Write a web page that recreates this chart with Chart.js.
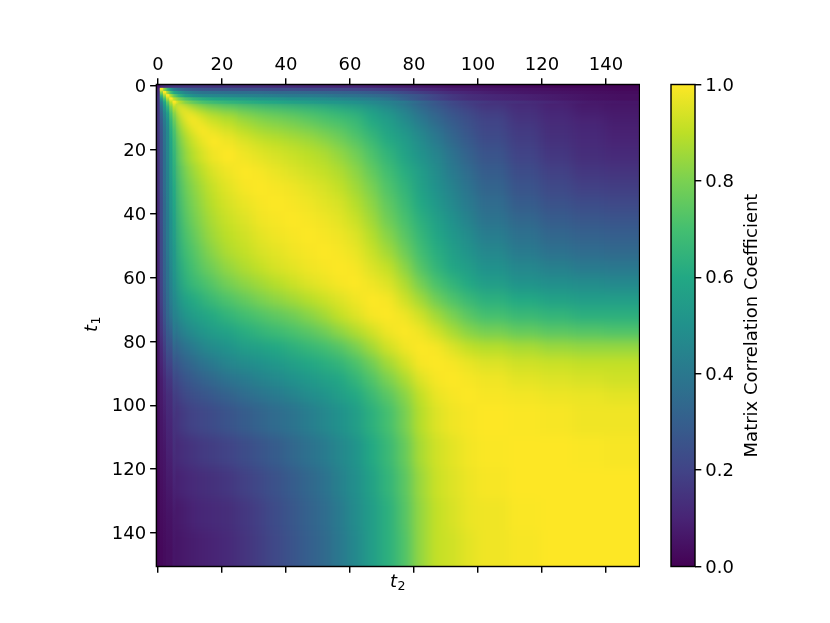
<!DOCTYPE html>
<html>
<head>
<meta charset="utf-8">
<title>Matrix Correlation Coefficient</title>
<script src="https://cdn.jsdelivr.net/npm/chart.js@4"></script>
<style>
    html, body { margin: 0; padding: 0; background: #ffffff; }
    #wrap { position: relative; width: 830px; height: 623px; overflow: hidden; }
    #wrap div { position: absolute; top: 0; height: 623px; }
    #mainBox { left: 0; width: 640px; }
    #barBox { left: 640px; width: 190px; }
</style>
</head>
<body>
<div id="wrap">
    <div id="mainBox"><canvas id="heatmap"></canvas></div>
    <div id="barBox"><canvas id="colorbar"></canvas></div>
</div>
<script>
// Block edges along t1 and t2 (finer near the origin where the picture changes fast)
const blockEdges = [0, 1, 2, 3, 4, 5, 6, 8, 10, 13, 16, 20, 25, 30, 35, 40, 45, 50, 55, 60, 65, 70, 75, 80, 85, 90, 95, 100, 110, 120, 130, 140, 151];

// Upper triangle, each row starts on the diagonal
const correlationRows = [
    [.05,.12,.13,.14,.15,.15,.15,.15,.15,.15,.14,.14,.13,.13,.12,.12,.11,.11,.10,.10,.09,.08,.07,.06,.05,.04,.04,.03,.02,.01,.01,.01],
    [1,.82,.66,.52,.42,.36,.31,.28,.26,.25,.25,.24,.24,.23,.23,.22,.22,.21,.20,.19,.17,.15,.12,.10,.08,.07,.06,.05,.04,.03,.02],
    [1,.85,.7,.6,.52,.45,.41,.38,.37,.36,.36,.35,.34,.34,.33,.32,.31,.30,.28,.26,.22,.18,.15,.12,.10,.08,.06,.05,.04,.03],
    [1,.88,.76,.65,.56,.5,.47,.46,.45,.44,.43,.42,.41,.41,.40,.38,.37,.35,.33,.29,.25,.2,.16,.13,.11,.09,.07,.05,.04],
    [1,.9,.8,.72,.66,.62,.59,.57,.55,.53,.52,.5,.49,.48,.46,.44,.42,.38,.31,.25,.2,.16,.13,.11,.09,.07,.05,.04],
    [1,.9,.82,.76,.71,.68,.65,.63,.61,.59,.57,.55,.53,.52,.5,.47,.44,.40,.33,.27,.22,.18,.15,.13,.1,.07,.06],
    [1,.93,.87,.82,.78,.75,.72,.7,.68,.66,.64,.62,.59,.56,.52,.47,.41,.34,.28,.23,.19,.15,.12,.09,.07,.06],
    [1,.95,.9,.86,.83,.8,.77,.75,.73,.71,.69,.66,.63,.58,.52,.45,.37,.31,.26,.22,.18,.14,.11,.08,.07],
    [1,.96,.92,.89,.85,.82,.8,.78,.75,.72,.7,.67,.6,.55,.48,.41,.34,.28,.24,.2,.15,.12,.1,.08],
    [1,.97,.94,.9,.87,.85,.83,.81,.78,.75,.7,.64,.58,.52,.45,.38,.31,.26,.21,.17,.13,.11,.09],
    [1,.98,.95,.92,.9,.88,.86,.83,.79,.74,.68,.61,.55,.48,.41,.34,.28,.23,.18,.14,.12,.1],
    [1,.98,.96,.94,.92,.9,.88,.84,.79,.72,.65,.58,.51,.45,.38,.31,.26,.2,.16,.13,.12],
    [1,.99,.97,.95,.93,.91,.88,.83,.76,.69,.62,.55,.48,.41,.35,.29,.23,.19,.16,.15],
    [1,.99,.98,.96,.94,.91,.86,.8,.72,.65,.57,.5,.44,.38,.32,.26,.22,.19,.18],
    [1,.99,.98,.96,.94,.89,.83,.75,.68,.6,.53,.47,.41,.35,.29,.25,.23,.22],
    [1,.99,.98,.96,.92,.86,.78,.71,.63,.56,.5,.44,.38,.33,.29,.27,.26],
    [1,.99,.98,.95,.89,.82,.74,.66,.59,.53,.48,.42,.37,.33,.31,.3],
    [1,.99,.97,.92,.86,.78,.69,.62,.56,.51,.46,.41,.37,.35,.34],
    [1,.99,.95,.91,.83,.73,.65,.59,.55,.5,.46,.43,.41,.4],
    [1,.98,.95,.88,.79,.71,.65,.6,.55,.51,.49,.48,.47],
    [1,.99,.93,.86,.78,.72,.67,.63,.6,.57,.55,.55],
    [1,.98,.93,.86,.8,.74,.7,.67,.65,.63,.63],
    [1,.98,.93,.87,.82,.79,.76,.74,.73,.72],
    [1,.99,.95,.91,.89,.87,.85,.84,.84],
    [1,.99,.97,.95,.93,.92,.91,.91],
    [1,.99,.98,.96,.95,.94,.93],
    [1,.99,.985,.975,.97,.96],
    [1,.995,.99,.98,.98],
    [1,1,.995,.99],
    [1,1,1],
    [1,1],
    [1]
];

const axisTicks = [0, 20, 40, 60, 80, 100, 120, 140];
const colorbarTicks = [0, 0.2, 0.4, 0.6, 0.8, 1];
const viridisStops = ['#440154', '#482475', '#414487', '#355f8d', '#2a788e', '#21918c', '#22a884', '#44bf70', '#7ad151', '#bddf26', '#fde725'];

const tickFont = { family: 'DejaVu Sans', size: 18 };
const lineWidth = 1.44;
const sharpStrips = 6;
const fineCorner = 25;

/**
 * Colour lookup on the viridis stops
 */
function viridis(value) {
    const pos = Math.min(Math.max(value, 0), 1) * (viridisStops.length - 1);
    const low = Math.floor(pos);
    const high = Math.min(low + 1, viridisStops.length - 1);
    const mix = pos - low;
    const a = viridisStops[low], b = viridisStops[high];
    const channel = start => {
        const from = parseInt(a.substr(start, 2), 16);
        const to = parseInt(b.substr(start, 2), 16);
        return Math.round(from + (to - from) * mix);
    };
    return 'rgb(' + channel(1) + ',' + channel(3) + ',' + channel(5) + ')';
}

// Rows hold the upper triangle, the lower one is its mirror
function cellValue(row, col) {
    const r = Math.min(row, col), c = Math.max(row, col);
    return correlationRows[r][c - r];
}

// One point per block, the plugin below paints them
function buildCells() {
    const cells = [];
    const count = blockEdges.length - 1;
    for (let row = 0; row < count; row++) {
        for (let col = 0; col < count; col++) {
            cells.push({
                x: (blockEdges[col] + blockEdges[col + 1]) / 2,
                y: (blockEdges[row] + blockEdges[row + 1]) / 2,
                row: row,
                col: col,
                v: cellValue(row, col)
            });
        }
    }
    return cells;
}

// Strip along one row (or column when vertical), shaded between its block centres
function drawStrip(ctx, chart, index, vertical) {
    const { chartArea, scales } = chart;
    const along = vertical ? scales.y : scales.x;
    const across = vertical ? scales.x : scales.y;
    const start = along.getPixelForValue(blockEdges[index] - 0.5);
    const end = vertical ? chartArea.bottom : chartArea.right;
    const gradient = vertical
        ? ctx.createLinearGradient(0, start, 0, end)
        : ctx.createLinearGradient(start, 0, end, 0);

    for (let other = index; other < blockEdges.length - 1; other++) {
        const centre = (blockEdges[other] + blockEdges[other + 1]) / 2 - 0.5;
        const stop = (along.getPixelForValue(centre) - start) / (end - start);
        gradient.addColorStop(stop, viridis(cellValue(index, other)));
    }

    const from = across.getPixelForValue(blockEdges[index] - 0.5);
    const to = across.getPixelForValue(blockEdges[index + 1] - 0.5);
    ctx.fillStyle = gradient;
    if (vertical) {
        ctx.fillRect(from, start, to - from, end - start);
    } else {
        ctx.fillRect(start, from, end - start, to - from);
    }
}

/**
 * Paints the blocks through the x and y scales. The coarse part is softened
 * so it reads like the finely sampled image, the first rows stay sharp across.
 */
const heatmapPlugin = {
    id: 'heatmapCells',
    beforeDatasetsDraw(chart) {
        const { ctx, chartArea, scales } = chart;
        const cells = chart.data.datasets[0].data;
        const margin = 30;
        const width = chartArea.right - chartArea.left;
        const height = chartArea.bottom - chartArea.top;
        const last = blockEdges.length - 2;

        const edgeX = i => scales.x.getPixelForValue(blockEdges[i] - 0.5);
        const edgeY = i => scales.y.getPixelForValue(blockEdges[i] - 0.5);

        const buffer = document.createElement('canvas');
        buffer.width = Math.ceil(width + margin * 2);
        buffer.height = Math.ceil(height + margin * 2);
        const bufferCtx = buffer.getContext('2d');

        cells.forEach(cell => {
            const left = cell.col === 0 ? chartArea.left - margin : edgeX(cell.col);
            const right = cell.col === last ? chartArea.right + margin : edgeX(cell.col + 1);
            const top = cell.row === 0 ? chartArea.top - margin : edgeY(cell.row);
            const bottom = cell.row === last ? chartArea.bottom + margin : edgeY(cell.row + 1);
            bufferCtx.fillStyle = viridis(cell.v);
            bufferCtx.fillRect(
                Math.floor(left - chartArea.left + margin),
                Math.floor(top - chartArea.top + margin),
                Math.ceil(right - left) + 1,
                Math.ceil(bottom - top) + 1
            );
        });

        ctx.save();
        ctx.beginPath();
        ctx.rect(chartArea.left, chartArea.top, width, height);
        ctx.clip();
        ctx.filter = 'blur(6px)';
        ctx.drawImage(buffer, chartArea.left - margin, chartArea.top - margin);

        // The corner by the origin has small blocks, so it gets less softening
        ctx.save();
        ctx.beginPath();
        ctx.rect(chartArea.left, chartArea.top, scales.x.getPixelForValue(fineCorner) - chartArea.left, scales.y.getPixelForValue(fineCorner) - chartArea.top);
        ctx.clip();
        ctx.filter = 'blur(4px)';
        ctx.drawImage(buffer, chartArea.left - margin, chartArea.top - margin);
        ctx.restore();
        ctx.filter = 'none';

        // Last strip first, so the ones nearer the origin end up on top
        for (let i = sharpStrips - 1; i >= 0; i--) {
            drawStrip(ctx, chart, i, false);
            drawStrip(ctx, chart, i, true);
        }
        ctx.restore();
    },
    afterDraw(chart) {
        const { ctx, chartArea } = chart;
        ctx.save();
        ctx.strokeStyle = '#000000';
        ctx.lineWidth = lineWidth;
        ctx.strokeRect(chartArea.left, chartArea.top, chartArea.right - chartArea.left, chartArea.bottom - chartArea.top);
        drawMathLabel(ctx, 397, 587, 0, 't', '2');
        drawMathLabel(ctx, 97, 325, -Math.PI / 2, 't', '1');
        ctx.restore();
    }
};

// Italic letter with an upright subscript, like the mathtext labels in the picture
function drawMathLabel(ctx, x, y, rotation, letter, subscript) {
    ctx.save();
    ctx.translate(x, y);
    ctx.rotate(rotation);
    ctx.fillStyle = '#000000';
    ctx.textBaseline = 'alphabetic';
    ctx.font = 'italic 18px "DejaVu Sans"';
    ctx.textAlign = 'right';
    ctx.fillText(letter, 0, 0);
    ctx.font = '12.6px "DejaVu Sans"';
    ctx.textAlign = 'left';
    ctx.fillText(subscript, 0.5, 3);
    ctx.restore();
}

/**
 * Colour strip and rotated label of the colour bar
 */
const colorbarPlugin = {
    id: 'colorbarStrip',
    beforeDatasetsDraw(chart) {
        const { ctx, chartArea, scales } = chart;
        const gradient = ctx.createLinearGradient(0, scales.y.getPixelForValue(0), 0, scales.y.getPixelForValue(1));
        viridisStops.forEach((color, i) => gradient.addColorStop(i / (viridisStops.length - 1), color));
        ctx.fillStyle = gradient;
        ctx.fillRect(chartArea.left, chartArea.top, chartArea.right - chartArea.left, chartArea.bottom - chartArea.top);
    },
    afterDraw(chart) {
        const { ctx, chartArea } = chart;
        ctx.save();
        ctx.strokeStyle = '#000000';
        ctx.lineWidth = lineWidth;
        ctx.strokeRect(chartArea.left, chartArea.top, chartArea.right - chartArea.left, chartArea.bottom - chartArea.top);
        ctx.translate(112, (chartArea.top + chartArea.bottom) / 2);
        ctx.rotate(-Math.PI / 2);
        ctx.fillStyle = '#000000';
        ctx.font = '18px "DejaVu Sans"';
        ctx.textAlign = 'center';
        ctx.textBaseline = 'middle';
        ctx.fillText('Matrix Correlation Coefficient', 0, 0);
        ctx.restore();
    }
};

function axisGrid() {
    return { drawOnChartArea: false, drawTicks: true, tickLength: 6.3, tickWidth: lineWidth, tickColor: '#000000', color: '#000000', lineWidth: lineWidth };
}

// Chart.js centres vertical axis labels a little higher than the picture does
function nudgeLabels(scale, dy) {
    if (scale.labelsNudged || !scale._computeLabelItems) return;
    scale.labelsNudged = true;
    const compute = scale._computeLabelItems;
    scale._computeLabelItems = function(area) {
        const items = compute.call(this, area);
        items.forEach(item => {
            const move = item.options.translation;
            item.options.translation = [move[0], move[1] + dy];
        });
        return items;
    };
}

function initializeHeatmap() {
    new Chart(document.getElementById('heatmap'), {
        type: 'scatter',
        data: { datasets: [{ data: buildCells(), pointRadius: 0, pointHoverRadius: 0 }] },
        plugins: [heatmapPlugin],
        options: {
            responsive: false,
            animation: false,
            events: [],
            layout: { padding: { left: 83, right: 0.4, top: 0, bottom: 32 } },
            plugins: { legend: { display: false }, tooltip: { enabled: false } },
            scales: {
                x: {
                    type: 'linear', position: 'top', min: -0.5, max: 150.5,
                    afterBuildTicks: scale => { scale.ticks = axisTicks.map(v => ({ value: v })); },
                    afterFit: scale => { scale.height = 84.5; },
                    grid: axisGrid(),
                    border: { display: false },
                    ticks: { font: tickFont, color: '#000000', padding: 2, maxRotation: 0, autoSkip: false }
                },
                x2: {
                    type: 'linear', position: 'bottom', min: -0.5, max: 150.5,
                    afterBuildTicks: scale => { scale.ticks = axisTicks.map(v => ({ value: v })); },
                    afterFit: scale => { scale.height = 24.5; },
                    grid: axisGrid(),
                    border: { display: false },
                    ticks: { display: false, autoSkip: false }
                },
                y: {
                    type: 'linear', position: 'left', reverse: true, min: -0.5, max: 150.5,
                    afterBuildTicks: scale => { scale.ticks = axisTicks.map(v => ({ value: v })); },
                    afterFit: scale => { scale.width = 73.4; nudgeLabels(scale, 1.5); },
                    grid: axisGrid(),
                    border: { display: false },
                    ticks: { font: tickFont, color: '#000000', padding: 4, autoSkip: false }
                }
            }
        }
    });
}

function initializeColorbar() {
    new Chart(document.getElementById('colorbar'), {
        type: 'scatter',
        data: { datasets: [{ data: [], pointRadius: 0 }] },
        plugins: [colorbarPlugin],
        options: {
            responsive: false,
            animation: false,
            events: [],
            layout: { padding: { left: 31, right: 0, top: 84.5, bottom: 56.5 } },
            plugins: { legend: { display: false }, tooltip: { enabled: false } },
            scales: {
                x: { type: 'linear', display: false },
                y: {
                    type: 'linear', position: 'right', min: 0, max: 1,
                    afterBuildTicks: scale => { scale.ticks = colorbarTicks.map(v => ({ value: v })); },
                    afterFit: scale => { scale.width = 135; nudgeLabels(scale, 1.5); },
                    grid: axisGrid(),
                    border: { display: false },
                    ticks: {
                        font: tickFont, color: '#000000', padding: 4, autoSkip: false,
                        callback: value => value.toFixed(1)
                    }
                }
            }
        }
    });
}

// Size the canvases before the charts read them
document.getElementById('heatmap').width = 640;
document.getElementById('heatmap').height = 623;
document.getElementById('colorbar').width = 190;
document.getElementById('colorbar').height = 623;
initializeHeatmap();
initializeColorbar();
</script>
</body>
</html>
